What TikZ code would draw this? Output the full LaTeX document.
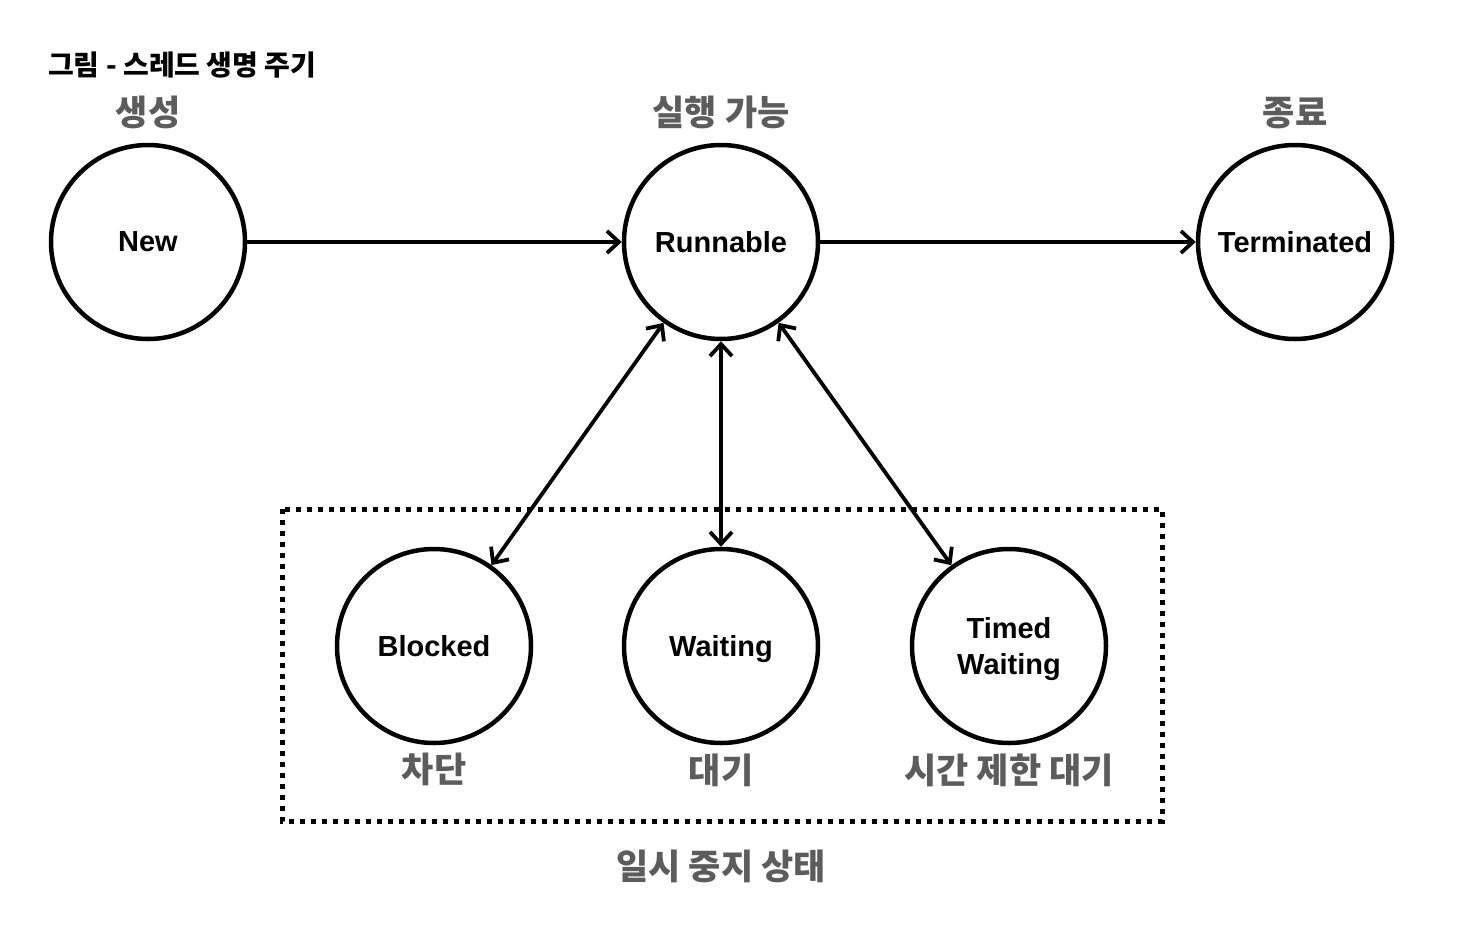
\documentclass[tikz,border=0pt]{standalone}
\usepackage{fontspec}
\setmainfont{Liberation Sans}
\newfontfamily\kofont{Noto Sans CJK KR}
\usetikzlibrary{positioning,arrows.meta}
\definecolor{grisrotulo}{HTML}{5C5C5C}
\tikzstyle{estado} = [draw, circle, line width=4.5pt, minimum size=194pt, inner sep=0pt, align=center, text depth=0pt, font=\fontsize{29}{36}\selectfont\bfseries]
\tikzstyle{rotulo} = [text=grisrotulo, inner sep=0pt, font=\kofont\fontsize{35}{40}\selectfont\bfseries]
\tikzstyle{titulo} = [text=black, inner sep=0pt, font=\kofont\fontsize{28}{32}\selectfont\bfseries]
\tikzstyle{flecha} = [line width=3.8pt, -{Straight Barb[length=12pt,width=22pt]}]
\tikzstyle{flechados} = [line width=3.8pt, {Straight Barb[length=12pt,width=22pt]}-{Straight Barb[length=12pt,width=22pt]}]
\tikzstyle{punteado} = [line width=5pt, dash pattern=on 5pt off 6pt]

\begin{document}
\begin{tikzpicture}[x=1pt,y=-1pt]
	\useasboundingbox (0,0) rectangle (1464,924);
	\node[titulo, anchor=west] (tit) at (48,65) {그림 - 스레드 생명 주기};
	% estados
	\node[estado] (new) at (148,242) {New};
	\node[estado] (run) at (721,242) {Runnable};
	\node[estado] (term) at (1295,242) {Terminated};
	\node[estado] (blk) at (434,646) {Blocked};
	\node[estado] (wait) at (721,646) {Waiting};
	\node[estado] (twait) at (1009,646) {Timed\\Waiting};
	\node[rotulo, above=14pt of new] (lnew) {생성};
	\node[rotulo, above=14pt of run] (lrun) {실행 가능};
	\node[rotulo, above=14pt of term] (lterm) {종료};
	\node[rotulo, below=8pt of blk] (lblk) {차단};
	\node[rotulo, below=8pt of wait] (lwait) {대기};
	\node[rotulo, below=8pt of twait] (ltwait) {시간 제한 대기};
	% transiciones
	\draw[flecha] (new) -- (run);
	\draw[flecha] (run) -- (term);
	\draw[flechados] (run) -- (blk);
	\draw[flechados] (run) -- (wait);
	\draw[flechados] (run) -- (twait);
	% espera
	\coordinate (c1) at (282,509);
	\coordinate (c2) at (1162,821);
	\draw[punteado] (c1) rectangle (c2);
	\node[rotulo] (lpausa) at (721,866) {일시 중지 상태};
\end{tikzpicture}
\end{document}
